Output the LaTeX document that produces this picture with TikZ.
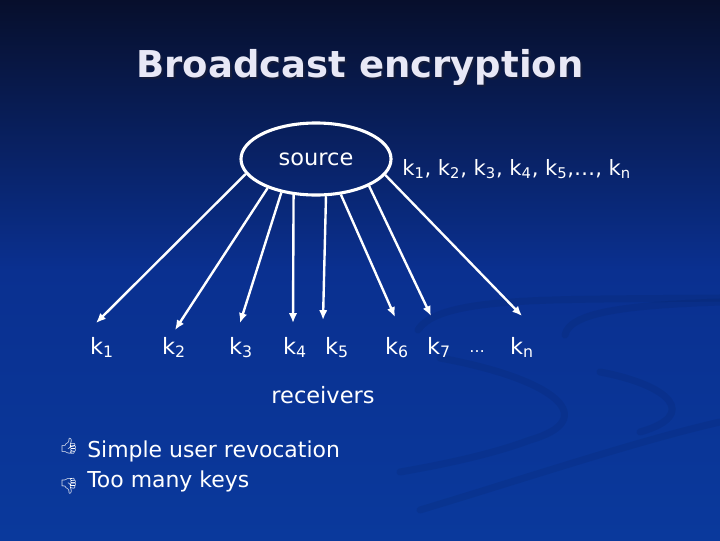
\documentclass[tikz,border=0pt]{standalone}
\usepackage{fontspec}
\setmainfont{DejaVu Sans}
\newfontfamily\emojifont{Noto Emoji}
\usetikzlibrary{shapes.geometric, arrows.meta}
\definecolor{bgtop}{HTML}{070F2C}
\definecolor{bgmid}{HTML}{0A3090}
\definecolor{bgbot}{HTML}{0A399C}
\definecolor{titlecol}{HTML}{E8E8F6}
\definecolor{shadowcol}{HTML}{141C3C}

\begin{document}
\begin{tikzpicture}[x=0.025cm, y=-0.025cm,
    txt/.style={text=white, inner sep=0pt, font=\fontsize{16}{19}\selectfont},
    keyarrow/.style={draw=white, line width=1.7pt, -{Latex[length=7pt,width=6pt]}},
    swoosh/.style={line width=5pt, draw=black, opacity=0.06, line cap=round}]
    % Draw the background
    \useasboundingbox (0,0) rectangle (720,540);
    \shade[top color=bgtop, bottom color=bgmid] (0,0) rectangle (720,270);
    \shade[top color=bgmid, bottom color=bgbot] (0,270) rectangle (720,540);
    \draw[swoosh] (418,330) .. controls (440,295) and (560,300) .. (720,298);
    \draw[swoosh] (565,335) .. controls (570,310) and (640,305) .. (720,302);
    \draw[swoosh] (440,358) .. controls (560,380) and (600,420) .. (530,440) .. controls (490,455) and (440,465) .. (400,472);
    \draw[swoosh] (600,372) .. controls (670,385) and (700,415) .. (640,432);
    \draw[swoosh] (420,510) .. controls (520,480) and (640,440) .. (720,422);

    % Title with its shadow
    \node[anchor=base, inner sep=0pt, text=shadowcol, font=\fontsize{26.3}{31}\selectfont\bfseries] (titleshadow) at (362,79) {Broadcast encryption};
    \node[anchor=base, inner sep=0pt, text=titlecol, font=\fontsize{26.3}{31}\selectfont\bfseries] (title) at (360,77) {Broadcast encryption};

    % Source and all the keys
    \node[ellipse, draw=white, line width=2.2pt, minimum width=3.75cm, minimum height=1.8cm, inner sep=0pt, text=white, font=\fontsize{16}{19}\selectfont] (src) at (316,159) {source};
    \node[txt, anchor=base west, font=\fontsize{15}{18}\selectfont] (keys) at (402,175) {k\textsubscript{1}, k\textsubscript{2}, k\textsubscript{3}, k\textsubscript{4}, k\textsubscript{5},…, k\textsubscript{n}};

    % Receivers, one key each
    \foreach \n/\x/\a/\tx/\ty in {1/102/192/96/323, 2/174/211/175/330, 3/241/224/240/323, 4/295/238/293/323, 5/337/285/323/320, 6/397/305/395/317, 7/439/333/431/316, n/522/347/522/316} {
        \node[txt, anchor=base] (k\n) at (\x,354) {k\textsubscript{\n}};
        \coordinate (t\n) at (\tx,\ty);
        \draw[keyarrow] (src.\a) -- (t\n);
    }
    \node[txt, anchor=base, font=\fontsize{11}{13}\selectfont] (dots) at (477,352) {…};
    \node[txt, anchor=base] (recv) at (323,403) {receivers};

    % Pros and cons
    \node[text=white, inner sep=0pt, font=\emojifont\fontsize{11}{11}\selectfont] (up) at (69,446) {👍};
    \node[text=white, inner sep=0pt, font=\emojifont\fontsize{11}{11}\selectfont] (down) at (69,486) {👎};
    \node[txt, anchor=base west, font=\fontsize{15.6}{19}\selectfont] (pro) at (87,457) {Simple user revocation};
    \node[txt, anchor=base west, font=\fontsize{15.6}{19}\selectfont] (con) at (87,487) {Too many keys};
\end{tikzpicture}
\end{document}
